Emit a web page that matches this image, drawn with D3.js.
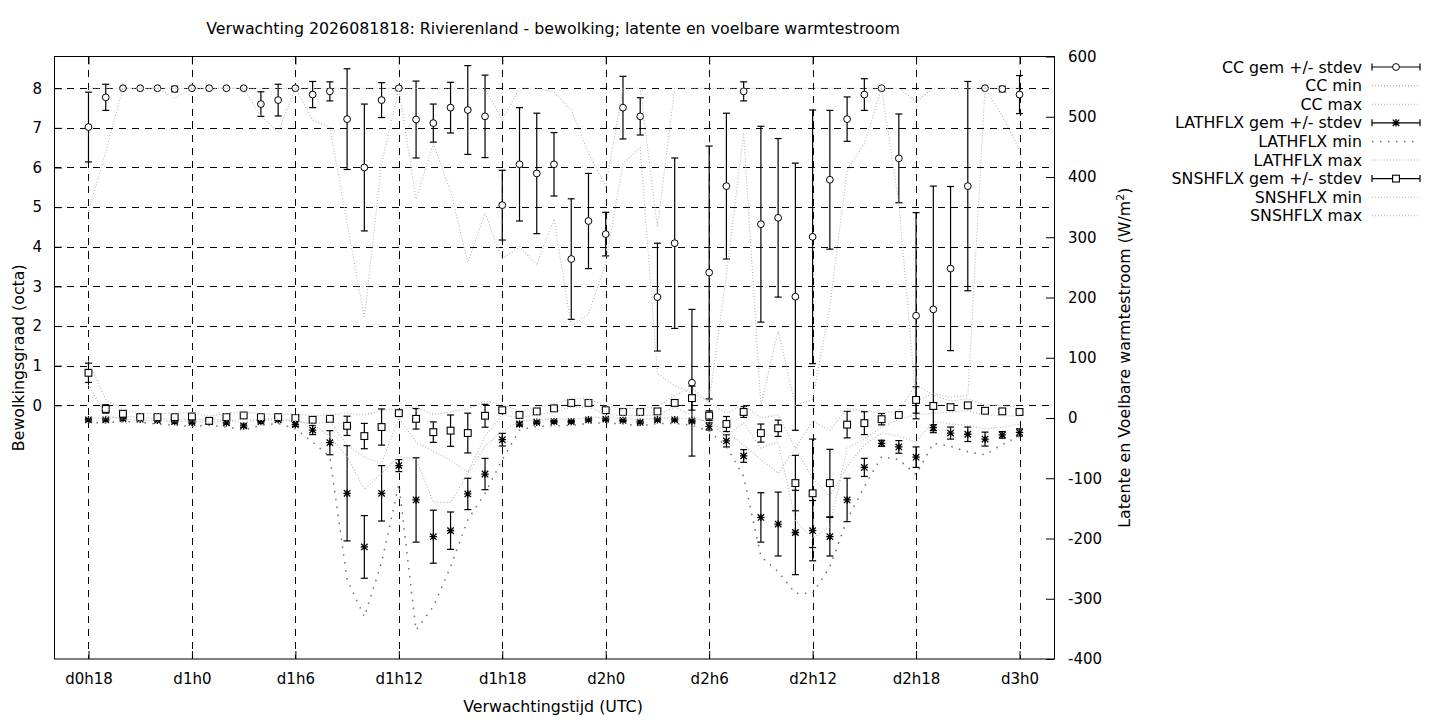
<!DOCTYPE html>
<html>
<head>
<meta charset="utf-8">
<script src="https://cdn.jsdelivr.net/npm/d3@7"></script>
<style>
  body { margin: 0; background: #fff; }
  svg { font-family: "DejaVu Sans", sans-serif; }
</style>
</head>
<body>
<svg id="chart" width="1440" height="720"></svg>
<script>
// forecast hours (since d0h0) and tick labels
var hours = [18,19,20,21,22,23,24,25,26,27,28,29,30,31,32,33,34,35,36,37,
             38,39,40,41,42,43,44,45,46,47,48,49,50,51,52,53,54,55,56,57,
             58,59,60,61,62,63,64,65,66,67,68,69,70,71,72];
var tickHours = [18,24,30,36,42,48,54,60,66,72];
var tickLabels = ['d0h18','d1h0','d1h6','d1h12','d1h18','d2h0','d2h6','d2h12','d2h18','d3h0'];
var ccTicks = [0,1,2,3,4,5,6,7,8];
var fluxTicks = [-400,-300,-200,-100,0,100,200,300,400,500,600];

// bewolking (octa)
var ccMean = [7.02,7.77,8,8,8,7.98,8,8,8,8,
              7.6,7.7,8,7.84,7.92,7.22,6.0,7.7,8,7.21,
              7.12,7.51,7.45,7.29,5.05,6.08,5.85,6.08,3.69,4.65,
              4.32,7.51,7.29,2.73,4.09,0.57,3.35,5.53,7.92,4.57,
              4.73,2.74,4.25,5.69,7.22,7.84,8,6.23,2.26,2.42,
              3.45,5.53,8,7.98,7.84];
var ccSd = [0.88,0.33,0,0,0,0.07,0,0,0,0,
            0.31,0.4,0,0.33,0.24,1.27,1.6,0.44,0,0.97,
            0.48,0.64,1.12,1.04,0.88,1.43,1.52,0.8,1.52,1.2,
            0.55,0.79,0.47,1.36,2.15,1.85,3.19,1.84,0.24,2.47,
            2.0,3.37,3.2,1.75,0.56,0.4,0,1.12,2.6,3.11,
            2.07,2.64,0,0.07,0.48];
var ccMin = [4.9,6.4,8,8,8,7.75,8,8,8,8,
             7.3,6.9,8,7.2,7.0,4.6,2.2,6.1,8,5.2,
             6.6,5.4,3.6,4.85,3.7,4.0,3.55,4.7,2.0,2.3,
             3.6,6.1,6.5,0.8,0.5,0.3,0.1,3.3,6.87,0,
             1.87,0,0.15,2.5,5.94,6.6,8,5.1,0.1,0.3,
             0.2,0.25,8,7.3,6.45];
var ccMax = [8,8,8,8,8,8,8,8,8,8,
             8,8,8,8,8,8,8,8,8,8,
             8,8,8,8,7.2,8,8,7.9,7.45,6.36,
             5.52,8,8,4.5,8,8,8,8,8,8,
             8,8,8,8,8,8,8,8,7.66,8,
             8,8,8,8,8];

// latente warmtestroom (W/m2)
var latMean = [-3,-3,-1,-2,-4,-6,-7,-6,-8,-13,
               -6,-3,-11,-20,-41,-125,-214,-125,-79,-136,
               -197,-187,-126,-93,-36,-10,-7,-6,-6,-3,
               -2,-4,-7,-3,-3,-5,-14,-38,-63,-165,
               -176,-190,-187,-197,-136,-82,-42,-48,-65,-16,
               -25,-27,-35,-28,-24];
var latSd = [2,2,2,2,2,2,2,2,2,3,
             2,2,3,7.5,20,79,52,46,10,70,
             44,31,26,26,10.5,3,2,2,2,2,
             2,2,2,2,2,2,6,10,10.5,41,
             53,70,50,32,36,15,5,10.5,17,5,
             10,12,11.6,5.5,6];
var latMin = [-8,-8,-6,-7,-10,-12,-14,-12,-15,-20,
              -12,-9,-18,-40,-64,-268,-330,-240,-110,-352,
              -313,-247,-169,-125,-69,-20,-14,-13,-12,-9,
              -8,-10,-13,-9,-9,-12,-22,-47,-97,-230,
              -255,-291,-291,-247,-169,-114,-64,-69,-94,-42,
              -47,-56,-61,-44,-30];
var latMax = [0,0,2,1,-1,-2,-3,-2,-4,-8,
              -2,0,-5,-10,-31,-64,-119,-92,-64,-69,
              -140,-140,-92,-47,-22,-5,-3,-2,-2,0,
              1,-1,-3,0,0,-1,-6,-22,-45,-69,
              -92,-50,-100,-130,-80,-45,-25,-30,-40,-5,
              -10,-12,-18,-15,-10];

// voelbare warmtestroom (W/m2)
var snsMean = [75,15,7,1.5,1.5,1.5,2.5,-4.7,1.5,4.2,
               1.5,1.5,0,-3,-1.4,-13,-30,-15,8,-1.4,
               -23.5,-21,-25,3.7,13,5,11,16,25,25,
               13,10,10,11,25,33,4,-10,10,-25,
               -17,-108,-125,-108,-11,-8.5,-2,5,30,20,
               18,21,12,11,10];
var snsSd = [16,7,5,2,3,3,3,2,3,2,
             2,1,3,4,1,16,21,30,4,17,
             17,26,33,19,4,2,2,2,2,2,
             2,2,2,2,3,20,8,12.5,9,15,
             13.5,46,90,56,22,19,9.4,3,22,5,
             3,3,3,3,3];
var snsMin = [55,5,-2,-4,-5,-6,-5,-8,-5,-2,
              -4,-3,-6,-10,-6,-45,-65,-75,0,-40,
              -55,-70,-90,-30,5,0,6,10,18,18,
              6,4,4,5,18,5,-10,-30,-8,-50,
              -40,-170,-200,-180,-50,-35,-15,-2,5,8,
              10,12,5,4,3];
var snsMax = [95,30,15,8,8,8,9,3,8,10,
              7,6,6,4,5,8,5,12,16,18,
              6,10,15,28,22,12,18,24,32,32,
              20,16,16,18,38,50,25,8,22,0,
              5,-50,-5,-20,15,12,8,12,55,38,
              28,32,22,20,18];

var plotL = 54, plotR = 1054, plotT = 56.5, plotB = 659;
var fontTxt = 15.8, fontTick = 15;

var svg = d3.select('#chart');

var x = d3.scaleLinear().domain([16, 74]).range([plotL, plotR]),
    y1 = d3.scaleLinear().domain([-6.4, 8.8]).range([plotB, plotT]),
    y2 = d3.scaleLinear().domain([-400, 600]).range([plotB, plotT]);

var lightDot = { stroke: '#b4b4b4', dash: '1,2', width: 1.1 },
    latMinDot = { stroke: '#6e6e6e', dash: '1.5,6.5', width: 1.5 };

// grid
var grid = svg.append('g').attr('stroke', '#000').attr('stroke-width', 1)
    .attr('stroke-dasharray', '7,6').attr('shape-rendering', 'crispEdges');
grid.selectAll('line.h').data(ccTicks).enter().append('line')
    .attr('x1', plotL).attr('x2', plotR)
    .attr('y1', function(d) { return Math.round(y1(d)) + 0.5; })
    .attr('y2', function(d) { return Math.round(y1(d)) + 0.5; });
grid.selectAll('line.v').data(tickHours).enter().append('line')
    .attr('y1', plotT).attr('y2', plotB)
    .attr('x1', function(d) { return Math.round(x(d)) + 0.5; })
    .attr('x2', function(d) { return Math.round(x(d)) + 0.5; });

// axes (ticks inward, gnuplot style)
var plain = function(d) { return String(d); };
var yAxisL = d3.axisLeft(y1).tickValues(ccTicks).tickFormat(plain)
    .tickSizeInner(-8).tickSizeOuter(0).tickPadding(12);
var yAxisR = d3.axisRight(y2).tickValues(fluxTicks).tickFormat(plain)
    .tickSizeInner(-8).tickSizeOuter(0).tickPadding(14);
var xAxisB = d3.axisBottom(x).tickValues(tickHours)
    .tickFormat(function(d, i) { return tickLabels[i]; })
    .tickSizeInner(-8).tickSizeOuter(0).tickPadding(14);
var xAxisT = d3.axisTop(x).tickValues(tickHours).tickFormat('').tickSizeInner(-8).tickSizeOuter(0);

function styleAxis(g) {
    g.select('.domain').remove();
    g.selectAll('line').attr('stroke', '#000');
    g.selectAll('text').attr('font-size', fontTick).attr('fill', '#000')
        .attr('font-family', '"DejaVu Sans", sans-serif');
}
svg.append('g').attr('transform', 'translate(' + plotL + ',0)').call(yAxisL).call(styleAxis);
svg.append('g').attr('transform', 'translate(' + plotR + ',0)').call(yAxisR).call(styleAxis);
svg.append('g').attr('transform', 'translate(0,' + plotB + ')').call(xAxisB).call(styleAxis);
svg.append('g').attr('transform', 'translate(0,' + plotT + ')').call(xAxisT).call(styleAxis);

svg.append('rect').attr('x', plotL + 0.5).attr('y', plotT)
    .attr('width', plotR - plotL).attr('height', plotB - plotT)
    .attr('fill', 'none').attr('stroke', '#000').attr('stroke-width', 1);

// marker shapes
function drawMarker(g, kind, cx, cy) {
    var s = 3.4;
    if (kind === 'circle') {
        g.append('circle').attr('cx', cx).attr('cy', cy).attr('r', s)
            .attr('fill', '#fff').attr('stroke', '#000').attr('stroke-width', 1);
    } else if (kind === 'square') {
        g.append('rect').attr('x', cx - s).attr('y', cy - s)
            .attr('width', 2 * s).attr('height', 2 * s)
            .attr('fill', '#fff').attr('stroke', '#000').attr('stroke-width', 1.1);
    } else {
        var a = 3.7, d = 3.2;
        g.append('path')
            .attr('d', 'M' + (cx - a) + ',' + cy + 'H' + (cx + a) +
                       'M' + cx + ',' + (cy - a) + 'V' + (cy + a) +
                       'M' + (cx - d) + ',' + (cy - d) + 'L' + (cx + d) + ',' + (cy + d) +
                       'M' + (cx - d) + ',' + (cy + d) + 'L' + (cx + d) + ',' + (cy - d))
            .attr('stroke', '#000').attr('stroke-width', 1.3).attr('fill', 'none');
    }
}

function drawErrorSeries(mean, sd, yScale, kind) {
    var g = svg.append('g');
    hours.forEach(function(h, i) {
        var cx = x(h), yl = yScale(mean[i] - sd[i]), yh = yScale(mean[i] + sd[i]);
        g.append('line').attr('x1', cx).attr('x2', cx).attr('y1', yl).attr('y2', yh)
            .attr('stroke', '#000').attr('stroke-width', 1.2);
        [yl, yh].forEach(function(yy) {
            g.append('line').attr('x1', cx - 3.5).attr('x2', cx + 3.5).attr('y1', yy).attr('y2', yy)
                .attr('stroke', '#000').attr('stroke-width', 1.2);
        });
        drawMarker(g, kind, cx, yScale(mean[i]));
    });
}

function drawDotted(values, yScale, style) {
    var line = d3.line()
        .x(function(d, i) { return x(hours[i]); })
        .y(function(d) { return yScale(d); });
    svg.append('path').datum(values).attr('d', line)
        .attr('fill', 'none').attr('stroke', style.stroke).attr('stroke-width', style.width)
        .attr('stroke-dasharray', style.dash);
}

drawErrorSeries(ccMean, ccSd, y1, 'circle');
drawDotted(ccMin, y1, lightDot);
drawDotted(ccMax, y1, lightDot);
drawErrorSeries(latMean, latSd, y2, 'star');
drawDotted(latMin, y2, latMinDot);
drawDotted(latMax, y2, lightDot);
drawErrorSeries(snsMean, snsSd, y2, 'square');
drawDotted(snsMin, y2, lightDot);
drawDotted(snsMax, y2, lightDot);

// titles
var midY = (plotT + plotB) / 2;
svg.append('text').attr('x', 553).attr('y', 34).attr('text-anchor', 'middle')
    .attr('font-size', fontTxt)
    .text('Verwachting 2026081818: Rivierenland - bewolking; latente en voelbare warmtestroom');
svg.append('text').attr('x', 553).attr('y', 712).attr('text-anchor', 'middle')
    .attr('font-size', fontTxt).text('Verwachtingstijd (UTC)');
svg.append('text').attr('transform', 'translate(24,' + midY + ') rotate(-90)')
    .attr('text-anchor', 'middle').attr('font-size', fontTxt).text('Bewolkingsgraad (octa)');
var r = svg.append('text').attr('transform', 'translate(1130,' + midY + ') rotate(-90)')
    .attr('text-anchor', 'middle').attr('font-size', fontTxt);
r.append('tspan').text('Latente en Voelbare warmtestroom (W/m');
r.append('tspan').attr('font-size', 11).attr('dy', -6).text('2');
r.append('tspan').attr('dy', 6).text(')');

// legend
var legendItems = [
    { label: 'CC gem +/- stdev', kind: 'circle' },
    { label: 'CC min', style: lightDot },
    { label: 'CC max', style: lightDot },
    { label: 'LATHFLX gem +/- stdev', kind: 'star' },
    { label: 'LATHFLX min', style: latMinDot },
    { label: 'LATHFLX max', style: lightDot },
    { label: 'SNSHFLX gem +/- stdev', kind: 'square' },
    { label: 'SNSHFLX min', style: lightDot },
    { label: 'SNSHFLX max', style: lightDot }
];
var lg = svg.append('g');
legendItems.forEach(function(item, i) {
    var ly = 67 + i * 18.6, x0 = 1372, x1 = 1420;
    lg.append('text').attr('x', 1362).attr('y', ly).attr('dy', '0.35em')
        .attr('text-anchor', 'end').attr('font-size', fontTxt).text(item.label);
    if (item.kind) {
        lg.append('line').attr('x1', x0).attr('x2', x1).attr('y1', ly).attr('y2', ly)
            .attr('stroke', '#000').attr('stroke-width', 1.2);
        [x0, x1].forEach(function(xx) {
            lg.append('line').attr('x1', xx).attr('x2', xx).attr('y1', ly - 3.5).attr('y2', ly + 3.5)
                .attr('stroke', '#000').attr('stroke-width', 1.2);
        });
        drawMarker(lg, item.kind, (x0 + x1) / 2, ly);
    } else {
        lg.append('line').attr('x1', x0).attr('x2', x1).attr('y1', ly).attr('y2', ly)
            .attr('stroke', item.style.stroke).attr('stroke-width', item.style.width)
            .attr('stroke-dasharray', item.style.dash);
    }
});
</script>
</body>
</html>
